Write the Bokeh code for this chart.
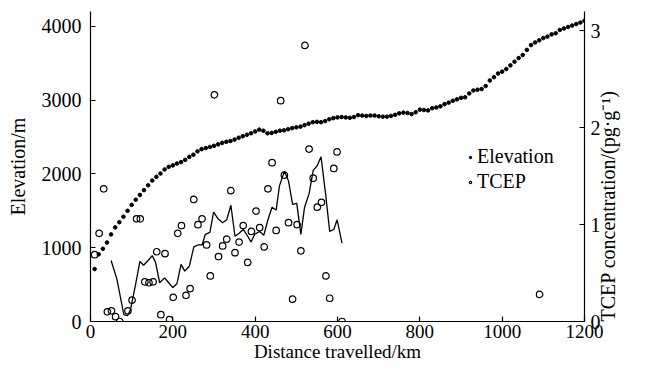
import math
from bokeh.plotting import figure
from bokeh.models import Range1d, LinearAxis, FixedTicker, Legend, LegendItem
from bokeh.embed import file_html
from bokeh.resources import INLINE

# ---- data ----
elev_km = [10, 20, 30, 40, 50, 60, 70, 80, 90, 100, 110, 120, 130, 140, 150, 160, 170, 180, 190, 200,
           210, 220, 230, 240, 250, 260, 270, 280, 290, 300, 310, 320, 330, 340, 350, 360, 370, 380, 390, 400,
           410, 420, 430, 440, 450, 460, 470, 480, 490, 500, 510, 520, 530, 540, 550, 560, 570, 580, 590, 600,
           610, 620, 630, 640, 650, 660, 670, 680, 690, 700, 710, 720, 730, 740, 750, 760, 770, 780, 790, 800,
           810, 820, 830, 840, 850, 860, 870, 880, 890, 900, 910, 920, 930, 940, 950, 960, 970, 980, 990, 1000,
           1010, 1020, 1030, 1040, 1050, 1060, 1070, 1080, 1090, 1100, 1110, 1120, 1130, 1140, 1150, 1160, 1170, 1180, 1190, 1200]
elev_m = [710, 910, 985, 1070, 1180, 1275, 1345, 1420, 1500, 1580, 1650, 1715, 1780, 1845, 1910, 1960, 2005, 2060, 2095, 2115,
          2140, 2160, 2190, 2230, 2260, 2305, 2335, 2350, 2365, 2380, 2400, 2420, 2435, 2445, 2465, 2490, 2510, 2530, 2550, 2575,
          2600, 2585, 2550, 2555, 2570, 2585, 2590, 2605, 2620, 2630, 2640, 2660, 2680, 2700, 2705, 2700, 2715, 2740, 2755, 2765,
          2770, 2765, 2760, 2770, 2795, 2790, 2785, 2790, 2790, 2780, 2775, 2775, 2785, 2800, 2820, 2830, 2825, 2810, 2835, 2870,
          2865, 2860, 2890, 2900, 2915, 2945, 2965, 2990, 3010, 3030, 3038, 3090, 3130, 3140, 3150, 3190, 3265, 3310, 3360, 3385,
          3420, 3470, 3520, 3570, 3610, 3680, 3745, 3780, 3810, 3840, 3860, 3890, 3905, 3950, 3970, 3990, 4010, 4030, 4050, 4075]

tcep_km = [10, 21, 32, 41, 51, 61, 71, 91, 101, 112, 121, 132, 142, 152, 161, 171, 181, 192, 201, 212,
           221, 232, 242, 251, 261, 271, 282, 291, 301, 311, 321, 331, 341, 351, 361, 371, 382, 391, 402, 411,
           422, 431, 441, 451, 462, 471, 481, 491, 502, 511, 521, 531, 541, 551, 561, 572, 581, 591, 599, 611, 1091]
tcep_val = [0.69, 0.91, 1.37, 0.10, 0.11, 0.05, 0.00, 0.11, 0.22, 1.06, 1.06, 0.41, 0.40, 0.41, 0.72, 0.07, 0.70, 0.02, 0.25, 0.91,
            0.99, 0.27, 0.34, 1.26, 1.00, 1.06, 0.79, 0.47, 2.34, 0.67, 0.78, 0.85, 1.35, 0.71, 0.82, 0.99, 0.61, 0.93, 1.14, 0.97,
            0.77, 1.37, 1.64, 0.94, 2.28, 1.51, 1.02, 0.23, 1.00, 0.73, 2.85, 1.78, 1.48, 1.18, 1.23, 0.47, 0.24, 1.58, 1.75, 0.00, 0.28]

trend_km = [50, 64, 81, 90, 97, 109, 120, 129, 140, 150, 158, 168, 180, 190, 200, 210, 220, 229, 240, 251,
            261, 271, 279, 290, 299, 310, 321, 331, 341, 351, 361, 371, 382, 390, 399, 411, 421, 431, 441, 451,
            459, 471, 481, 491, 501, 511, 520, 531, 541, 551, 560, 571, 581, 591, 599, 611]
trend_val = [0.63, 0.44, 0.07, 0.06, 0.12, 0.37, 0.62, 0.58, 0.63, 0.68, 0.61, 0.40, 0.45, 0.40, 0.35, 0.39, 0.59, 0.52, 0.57, 0.77,
             0.79, 0.79, 0.90, 0.92, 1.13, 1.06, 1.02, 1.05, 1.20, 0.88, 0.91, 0.95, 0.88, 0.82, 0.90, 0.93, 0.89, 1.05, 1.18, 1.15,
             1.40, 1.55, 1.45, 1.21, 1.22, 0.90, 1.18, 1.32, 1.56, 1.61, 1.70, 1.32, 0.93, 0.95, 1.05, 0.81]

x_ticks = [0, 200, 400, 600, 800, 1000, 1200]
elev_ticks = [0, 1000, 2000, 3000, 4000]
tcep_ticks = [0, 1, 2, 3]

FONT = "Liberation Serif"
FS = "20px"
FS_X = "19px"

p = figure(width=632, height=364, output_backend="svg", toolbar_location=None,
           x_range=Range1d(0, 1200), y_range=Range1d(0, 4200),
           min_border_left=90, min_border_right=41, min_border_top=11, min_border_bottom=42)
p.extra_y_ranges = {"tcep": Range1d(0, 3.2)}
p.outline_line_color = None
p.xgrid.visible = False
p.ygrid.visible = False
p.background_fill_color = "white"
p.border_fill_color = "white"

right = LinearAxis(y_range_name="tcep")
p.add_layout(right, "right")

def style(ax, ticks, fs):
    ax.ticker = FixedTicker(ticks=ticks)
    ax.axis_line_color = "black"
    ax.axis_line_width = 1.2
    ax.major_tick_line_color = "black"
    ax.major_tick_line_width = 1.2
    ax.major_tick_in = 5
    ax.major_tick_out = 0
    ax.minor_tick_line_color = None
    ax.major_label_text_font = FONT
    ax.major_label_text_font_size = fs
    ax.major_label_text_color = "black"
    ax.axis_label_text_font = FONT
    ax.axis_label_text_font_size = fs
    ax.axis_label_text_font_style = "normal"
    ax.axis_label_text_color = "black"

xa = p.xaxis[0]
ya = p.yaxis[0]
style(xa, x_ticks, FS_X)
style(ya, elev_ticks, FS)
style(right, tcep_ticks, FS)
xa.axis_label = "Distance travelled/km"
ya.axis_label = "Elevation/m"
right.axis_label = "TCEP concentration/(pg\u00b7g\u207b\u00b9)"
try:
    right.axis_label_orientation = math.pi / 2
except Exception:
    pass
try:
    right.axis_label_align = "start"
except Exception:
    pass
xa.major_label_standoff = 3
xa.axis_label_standoff = 0
ya.major_label_standoff = 9
ya.axis_label_standoff = 10
right.major_label_standoff = 6
right.axis_label_standoff = 4

r_elev = p.scatter(elev_km, elev_m, size=3.6, color="black")
r_line = p.line(trend_km, trend_val, y_range_name="tcep", line_color="black", line_width=1.3)
r_tcep = p.scatter(tcep_km, tcep_val, y_range_name="tcep", size=6.5, fill_color=None,
                   line_color="black", line_width=1.2)

legend = Legend(items=[LegendItem(label="Elevation", renderers=[r_elev]),
                       LegendItem(label="TCEP", renderers=[r_tcep])],
                location=(377, 128), glyph_width=6, glyph_height=20, label_height=20,
                label_standoff=4, spacing=2, padding=0, margin=0,
                border_line_color=None, background_fill_alpha=0,
                label_text_font=FONT, label_text_font_size=FS, label_text_color="black")
p.add_layout(legend, "center")

open("out.html", "w").write(file_html(p, INLINE))
